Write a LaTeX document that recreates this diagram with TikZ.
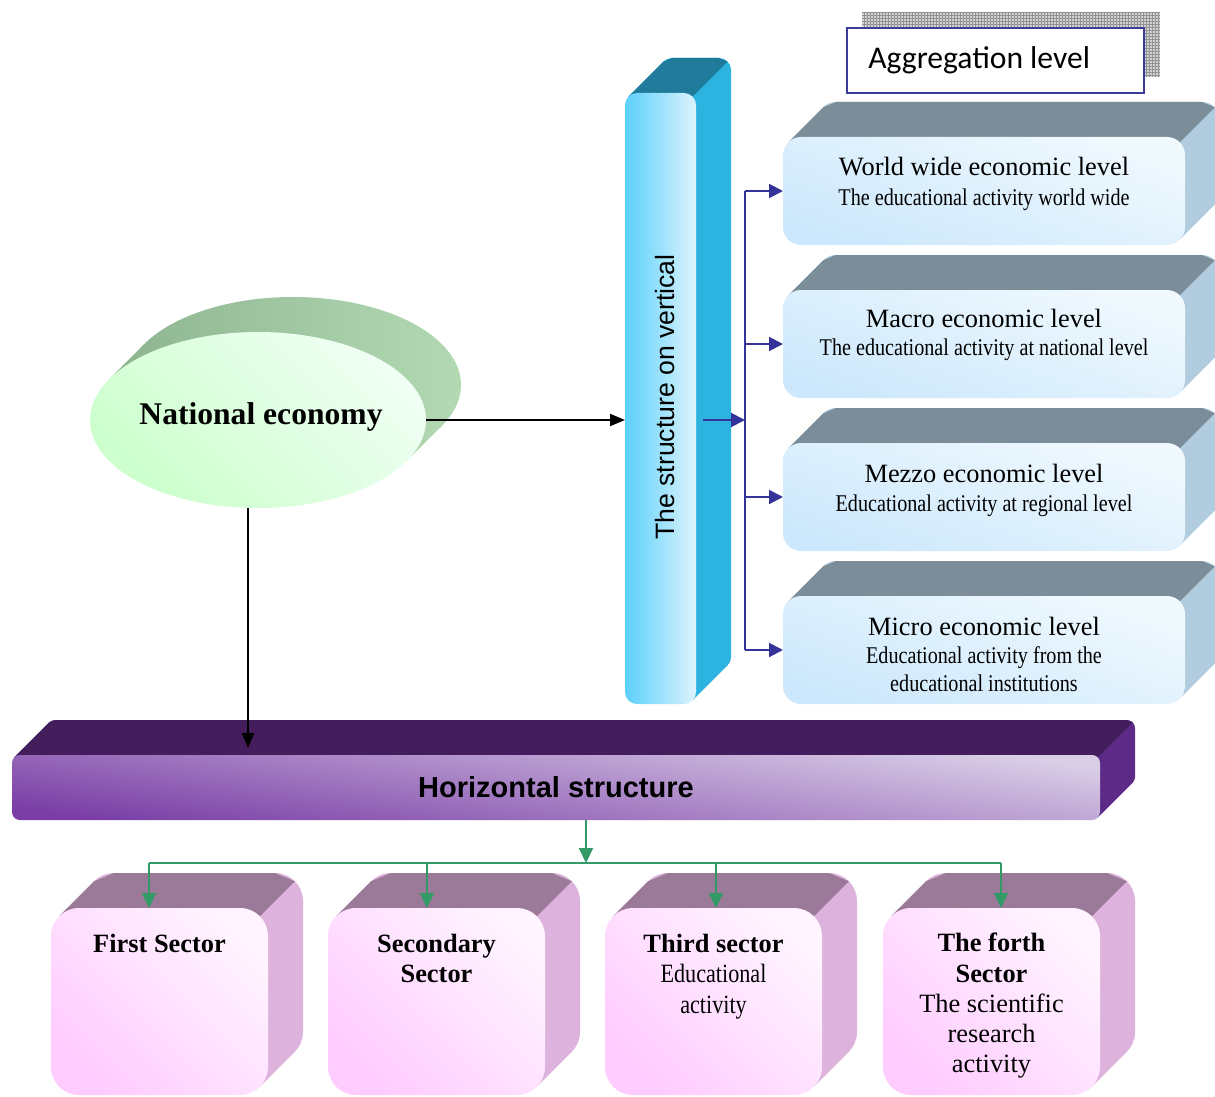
\documentclass[tikz,border=0pt]{standalone}
\usepackage{fontspec}
\setmainfont{Liberation Serif}
\setsansfont{Liberation Sans}
\newfontfamily\narrowserif{Liberation Serif}[FakeStretch=0.84]
\newfontfamily\aggfont{Carlito}
\usetikzlibrary{shapes.geometric,arrows.meta}

\definecolor{aggblue}{HTML}{3B3B99}
\definecolor{vtop}{HTML}{1F7B99}
\definecolor{vside}{HTML}{2DB3DF}
\definecolor{vfl}{HTML}{5BD0FB}
\definecolor{vfr}{HTML}{DDF4FD}
\definecolor{ltop}{HTML}{7B8D99}
\definecolor{lside}{HTML}{B1CCDE}
\definecolor{lft}{HTML}{F0F9FE}
\definecolor{lfb}{HTML}{CDE8FC}
\definecolor{htop}{HTML}{441D5D}
\definecolor{hside}{HTML}{5D2A88}
\definecolor{hft}{HTML}{DACEE7}
\definecolor{hfb}{HTML}{7A3EA6}
\definecolor{stop}{HTML}{9A7A98}
\definecolor{sside}{HTML}{DDB2DD}
\definecolor{sft}{HTML}{FFF4FF}
\definecolor{sfb}{HTML}{FFCCFF}
\definecolor{nel}{HTML}{8AB28E}
\definecolor{nem}{HTML}{789B7D}
\definecolor{ner}{HTML}{B3DAB3}
\definecolor{neft}{HTML}{F0FFF4}
\definecolor{nefb}{HTML}{CCFFCC}
\definecolor{arrblue}{HTML}{333399}
\definecolor{arrgreen}{HTML}{339966}

% back part of an extruded rounded box: x1,y1,x2,y2,R,topcolor,sidecolor
\newcommand\cubeback[7]{%
  \pgfmathsetmacro\ck{#5*0.2929}%
  \pgfmathsetmacro\cR{#5*0.5}%
  \fill[#7, rounded corners=\cR pt] (#1+35,#2-35) rectangle (#3+35,#4-35);
  \fill[#7] (#1+\ck,#2+\ck) -- (#1+\ck+35,#2+\ck-35) -- (#3-\ck+35,#4-\ck-35) -- (#3-\ck,#4-\ck) -- cycle;
  \fill[#6] (#1+\ck,#2+\ck) -- (#1+\ck+35,#2+\ck-35) -- (#1+#5+35,#2-35) -- (#3-#5+35,#2-35)
     -- (#3-\ck+35,#2+\ck-35) -- (#3-\ck,#2+\ck) -- (#3-#5,#2) -- (#1+#5,#2) -- cycle;
}
% front face node: name,x1,y1,x2,y2,R,style
\newcommand\cubefront[7]{%
  \pgfmathsetmacro\cw{(#4-#2)*0.5}%
  \pgfmathsetmacro\chh{(#5-#3)*0.5}%
  \pgfmathsetmacro\cR{#6*0.5}%
  \node[#7, rounded corners=\cR pt, minimum width=\cw pt, minimum height=\chh pt,
        inner sep=0pt, outer sep=0pt] (#1) at ({(#2+#4)/2},{(#3+#5)/2}) {};
}

\begin{document}
\begin{tikzpicture}[x=0.5pt,y=-0.5pt,
  blkarr/.style={draw=black, line width=1pt, -{Triangle[length=7.5pt,width=6pt]}},
  blu/.style={draw=arrblue, line width=1pt},
  bluarr/.style={blu, -{Triangle[length=7pt,width=7pt]}},
  grn/.style={draw=arrgreen, line width=1pt},
  grnarr/.style={grn, -{Triangle[length=7.5pt,width=7pt]}},
  lvfront/.style={top color=lft, bottom color=lfb, shading angle=-20},
  secfront/.style={top color=sft, bottom color=sfb, shading angle=-45},
  lvtitle/.style={font=\fontsize{13.2}{15}\selectfont, anchor=base, inner sep=0pt},
  lvsub/.style={font=\narrowserif\fontsize{12}{14}\selectfont, anchor=base, inner sep=0pt},
  secbold/.style={font=\bfseries\fontsize{13.2}{15}\selectfont, anchor=base, inner sep=0pt},
  secnarrow/.style={font=\narrowserif\fontsize{13.2}{15}\selectfont, anchor=base, inner sep=0pt},
  secnorm/.style={font=\fontsize{13.2}{15}\selectfont, anchor=base, inner sep=0pt}]
\clip (0,0) rectangle (1215,1097);
\fill[white] (0,0) rectangle (1215,1097);

% ---- Aggregation level
\fill[gray!35] (862,12) rectangle (1160,77);
\draw[gray!85, line width=0.35pt, step=1.5pt] (862,12) grid (1160,77);
\node[draw=aggblue, line width=1pt, fill=white, minimum width=148.5pt, minimum height=32.5pt,
      inner sep=0pt] (agg) at (995.5,60.5) {};
\node[font=\aggfont\fontsize{15.8}{18}\selectfont, anchor=base west, inner sep=0pt] (aggtxt) at (868,69) {Aggregation level};

% ---- National economy (extruded ellipse)
\begin{scope}
  \clip (293,385) ellipse [x radius=168, y radius=88];
  \shade[left color=nel, middle color=nem, right color=ner] (90,290) rectangle (470,520);
\end{scope}
\begin{scope}
  \clip (406.9,460.8) -- (441.9,425.8) -- (144.1,344.2) -- (109.1,379.2) -- cycle;
  \shade[left color=nel, middle color=nem, right color=ner] (90,290) rectangle (470,520);
\end{scope}
\node[ellipse, minimum width=168pt, minimum height=88pt, inner sep=0pt, outer sep=0pt,
      top color=neft, bottom color=nefb, shading angle=-45] (ne) at (258,420) {};
\node[font=\bfseries\fontsize{15.8}{18}\selectfont, anchor=base, inner sep=0pt] (netxt) at (261,424) {National economy};

% ---- vertical bar
\cubeback{625}{93}{696}{704}{12}{vtop}{vside}
\cubefront{vbar}{625}{93}{696}{704}{12}{left color=vfl, right color=vfr}
\node[rotate=90, font=\sffamily\fontsize{13.3}{16}\selectfont, anchor=base, inner sep=0pt] (vtxt) at (674,397) {The structure on vertical};

% ---- level boxes
\cubeback{783}{137}{1185}{245}{18}{ltop}{lside}
\cubefront{lv1}{783}{137}{1185}{245}{18}{lvfront}
\cubeback{783}{290}{1185}{398}{18}{ltop}{lside}
\cubefront{lv2}{783}{290}{1185}{398}{18}{lvfront}
\cubeback{783}{443}{1185}{551}{18}{ltop}{lside}
\cubefront{lv3}{783}{443}{1185}{551}{18}{lvfront}
\cubeback{783}{596}{1185}{704}{18}{ltop}{lside}
\cubefront{lv4}{783}{596}{1185}{704}{18}{lvfront}

\node[lvtitle] (t1a) at (984,176) {World wide economic level};
\node[lvsub]   (t1b) at (984,205) {The educational activity world wide};
\node[lvtitle] (t2a) at (984,327) {Macro economic level};
\node[lvsub]   (t2b) at (984,355) {The educational  activity at national level};
\node[lvtitle] (t3a) at (984,482) {Mezzo economic level};
\node[lvsub]   (t3b) at (984,511) {Educational activity at  regional level};
\node[lvtitle] (t4a) at (984,635) {Micro economic level};
\node[lvsub]   (t4b) at (984,663) {Educational activity from the};
\node[lvsub]   (t4c) at (984,691) {educational institutions};

% ---- horizontal bar
\cubeback{12}{755}{1100}{820}{8}{htop}{hside}
\cubefront{hbar}{12}{755}{1100}{820}{8}{top color=hft, bottom color=hfb, shading angle=-8}
\node[font=\sffamily\bfseries\fontsize{14.5}{17}\selectfont, anchor=base, inner sep=0pt] (htxt) at (556,797) {Horizontal structure};

% ---- sector boxes
\cubeback{51}{908}{268}{1095}{28}{stop}{sside}
\cubefront{s1}{51}{908}{268}{1095}{28}{secfront}
\cubeback{328}{908}{545}{1095}{28}{stop}{sside}
\cubefront{s2}{328}{908}{545}{1095}{28}{secfront}
\cubeback{605}{908}{822}{1095}{28}{stop}{sside}
\cubefront{s3}{605}{908}{822}{1095}{28}{secfront}
\cubeback{883}{908}{1100}{1095}{28}{stop}{sside}
\cubefront{s4}{883}{908}{1100}{1095}{28}{secfront}

\node[secbold] (s1a) at (159.5,952) {First Sector};
\node[secbold] (s2a) at (436.5,952) {Secondary};
\node[secbold] (s2b) at (436.5,982) {Sector};
\node[secbold] (s3a) at (713.5,952) {Third sector};
\node[secnarrow] (s3b) at (713.5,982) {Educational};
\node[secnarrow] (s3c) at (713.5,1013) {activity};
\node[secbold] (s4a) at (991.5,951) {The forth};
\node[secbold] (s4b) at (991.5,982) {Sector};
\node[secnorm] (s4c) at (991.5,1012) {The scientific};
\node[secnorm] (s4d) at (991.5,1042) {research};
\node[secnorm] (s4e) at (991.5,1072) {activity};

% ---- connectors
\draw[blkarr] (ne.east) -- (ne.east -| vbar.west);
\coordinate (hin) at (248,748);
\draw[blkarr] (hin |- ne.south) -- (hin);

\coordinate (jv) at (745,420);
\draw[bluarr] ([xshift=3.5pt]vbar.east |- jv) -- (jv);
\draw[blu] (jv |- lv1.west) -- (jv |- lv4.west);
\foreach \n in {lv1,lv2,lv3,lv4}{\draw[bluarr] (jv |- \n.west) -- (\n.west);}

\coordinate (gj) at (586,863);
\draw[grnarr] (gj |- hbar.south) -- (gj);
\coordinate (d1) at ([xshift=-5.25pt]s1.north);
\coordinate (d2) at ([xshift=-4.75pt]s2.north);
\coordinate (d3) at ([xshift=1.25pt]s3.north);
\coordinate (d4) at ([xshift=4.75pt]s4.north);
\draw[grn] (gj -| d1) -- (gj -| d4);
\foreach \d in {d1,d2,d3,d4}{\draw[grnarr] (gj -| \d) -- (\d);}
\end{tikzpicture}
\end{document}
